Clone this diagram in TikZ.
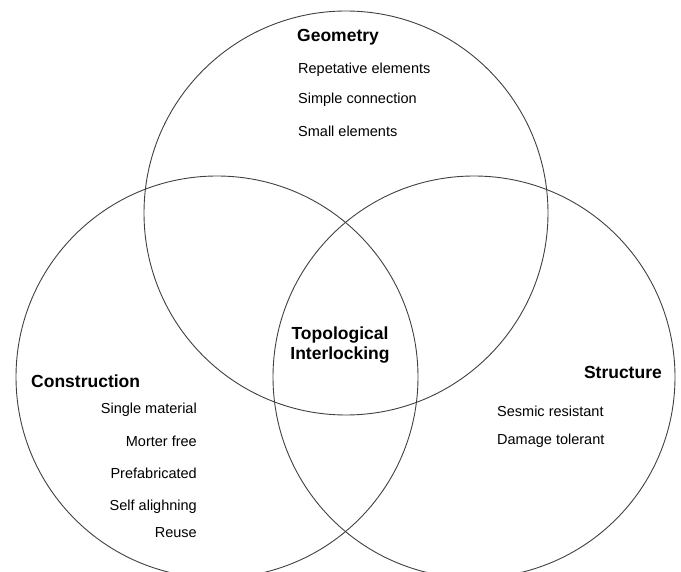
\documentclass[tikz,border=0pt]{standalone}
\usepackage{fontspec}
\setmainfont{Liberation Sans}
\begin{document}
\begin{tikzpicture}[x=1pt,y=-1pt,
  ring/.style={draw=black!75,line width=0.9pt},
  head/.style={font=\fontsize{17.5}{20.5}\selectfont\bfseries,inner sep=0pt},
  item/.style={font=\fontsize{14.5}{16}\selectfont,inner sep=0pt}]
\useasboundingbox (0,0) rectangle (681,572);
\begin{scope}
\clip (0,0) rectangle (681,572);
\draw[ring] (346,213) circle (202);
\draw[ring] (217,377) circle (201);
\draw[ring] (474,377) circle (201);
\end{scope}
\node[head,anchor=west] (geo) at (297,37) {Geometry};
\node[item,anchor=west] (g1) at (298,70) {Repetative elements};
\node[item,anchor=west] (g2) at (298,100) {Simple connection};
\node[item,anchor=west] (g3) at (298,131) {Small elements};
\node[head,anchor=west] (con) at (31,381) {Construction};
\node[item,anchor=east] (c1) at (197,410) {Single material};
\node[item,anchor=east] (c2) at (197,441) {Morter free};
\node[item,anchor=east] (c3) at (197,473) {Prefabricated};
\node[item,anchor=east] (c4) at (197,507) {Self alighning};
\node[item,anchor=east] (c5) at (197,533) {Reuse};
\node[head,anchor=east] (str) at (662,372) {Structure};
\node[item,anchor=west] (s1) at (497,411) {Sesmic resistant};
\node[item,anchor=west] (s2) at (497,441) {Damage tolerant};
\node[head,align=center] (topo) at (340,345) {Topological\\Interlocking};
\end{tikzpicture}
\end{document}
